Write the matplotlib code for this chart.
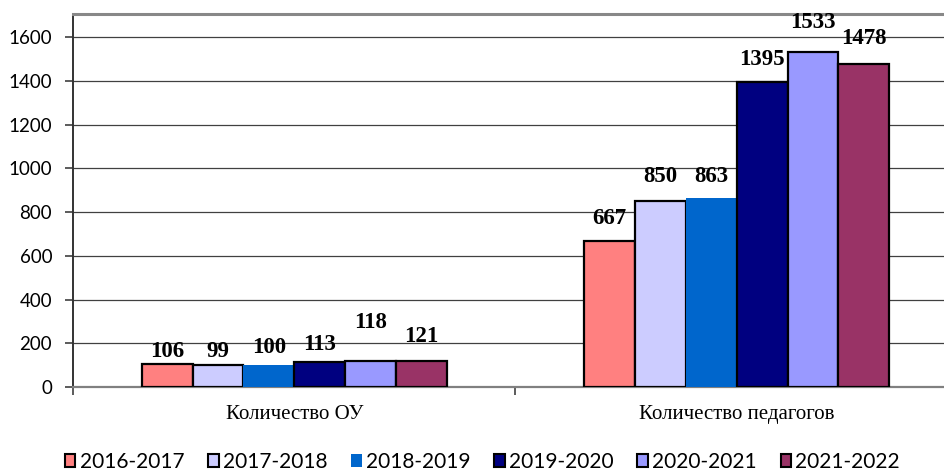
import matplotlib
matplotlib.use('Agg')
import matplotlib.pyplot as plt
from matplotlib.patches import Rectangle
import numpy as np

# data
categories = ['Количество ОУ', 'Количество педагогов']
years = ['2016-2017', '2017-2018', '2018-2019', '2019-2020', '2020-2021', '2021-2022']
values = [
    [106, 667],
    [99, 850],
    [100, 863],
    [113, 1395],
    [118, 1533],
    [121, 1478],
]

# look of each series (Excel default palette)
colors = ['#FF8080', '#CCCCFF', '#0066CC', '#000080', '#9999FF', '#993366']
edges = ['black', 'black', 'none', 'black', 'black', 'black']
# manual nudges of the value labels (points above bar top), as in the original
label_dy = [
    [9, 16],
    [10, 18],
    [13, 16],
    [13, 16],
    [28, 21],
    [17, 18],
]

fig = plt.figure(figsize=(9.44, 4.71), dpi=100)
ax = fig.add_axes([0.0773, 0.1783, 0.9375, 0.7919])

x = np.arange(len(categories))
w = 0.1148
for i, yr in enumerate(years):
    xs = x + (i - 2.5) * w
    ax.bar(xs, values[i], width=w, color=colors[i], edgecolor=edges[i],
           linewidth=1.6, zorder=3)
    for j in range(len(categories)):
        ax.annotate(str(values[i][j]), (xs[j], values[i][j]),
                    xytext=(0, label_dy[i][j]), textcoords='offset points',
                    ha='center', va='center', fontsize=16.5, fontweight='bold',
                    family='Liberation Serif', zorder=4)

ax.set_xlim(-0.5, 1.5)
ax.set_ylim(0, 1705)
ax.set_yticks(np.arange(0, 1601, 200))
ax.yaxis.grid(True, color='#404040', linewidth=0.9, zorder=0)

# category boundaries get the tick marks, names sit in between
ax.set_xticks([-0.5, 0.5, 1.5])
ax.set_xticklabels([])
ax.set_xticks(x, minor=True)
ax.set_xticklabels(categories, minor=True, family='Liberation Serif', fontsize=15)
ax.tick_params(axis='x', which='minor', length=0, pad=13)
ax.tick_params(axis='x', which='major', length=6, width=1.2, color='#404040')
ax.tick_params(axis='y', length=6, width=1.2, color='#404040', pad=9,
               labelsize=13.5)
for lab in ax.get_yticklabels():
    lab.set_family('Lato')

ax.spines['top'].set_color('#888888')
ax.spines['top'].set_linewidth(2.2)
ax.spines['right'].set_visible(False)
ax.spines['left'].set_color('#333333')
ax.spines['left'].set_linewidth(1.4)
ax.spines['bottom'].set_color('#808080')
ax.spines['bottom'].set_linewidth(1.6)

handles = [Rectangle((0, 0), 1, 1, facecolor=colors[i], edgecolor=edges[i],
                     linewidth=1.5) for i in range(len(years))]
leg = fig.legend(handles, years, loc='center', bbox_to_anchor=(0.511, 0.019),
                 ncol=6, frameon=False, handlelength=0.5, handleheight=0.6,
                 handletextpad=0.2, columnspacing=1.15,
                 prop={'family': 'Lato', 'size': 15})

fig.savefig('out.png', dpi=100)
